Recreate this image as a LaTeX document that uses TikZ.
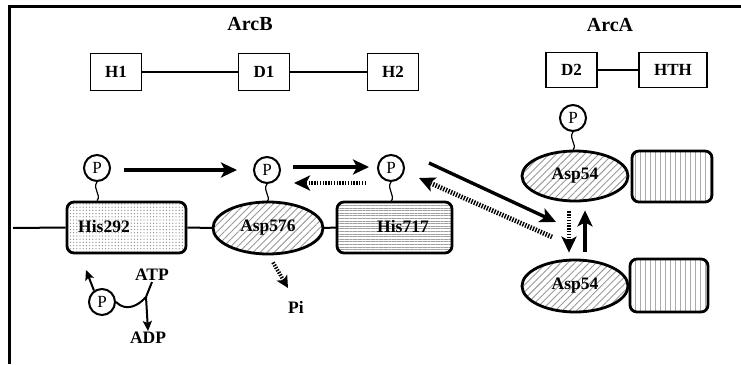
\documentclass[tikz,border=0pt]{standalone}
\usepackage{fontspec}
\setmainfont{Liberation Serif}
\usetikzlibrary{shapes.geometric,patterns.meta,arrows.meta,calc}
\newcommand\ptail[2]{\draw[line width=1.2pt] (#1.south) .. controls ($(#1.south)+(-5,7)$) and ($(#1.south)+(5,13)$) .. (#1.south |- #2.north);}
\begin{document}
\begin{tikzpicture}[x=1pt,y=-1pt,
  lbl/.style={font=\bfseries\fontsize{17.5}{17.5}\selectfont,inner sep=1pt},
  ttl/.style={font=\bfseries\fontsize{20}{20}\selectfont},
  dom/.style={draw,line width=1.4pt,minimum height=37pt,inner sep=0pt,font=\bfseries\fontsize{17}{17}\selectfont},
  pcirc/.style={draw,circle,line width=2pt,minimum size=26pt,inner sep=0pt,font=\fontsize{17}{17}\selectfont},
  midbox/.style={draw,rounded corners=7pt,line width=2.8pt,inner sep=0pt},
  oval/.style={draw,ellipse,line width=2.8pt,inner sep=0pt,font=\bfseries\fontsize{17.5}{17.5}\selectfont},
  dothatch/.style={pattern={Dots[radius=0.7pt,distance=3.2pt]},pattern color=gray!85},
  diaghatch/.style={pattern={Lines[angle=45,distance=5pt,line width=0.9pt]},pattern color=gray!80},
  horhatch/.style={pattern={Lines[angle=0,distance=2.6pt,line width=0.7pt]},pattern color=gray!75},
  verhatch/.style={pattern={Lines[angle=90,distance=5pt,line width=0.9pt]},pattern color=gray!65},
  solidarr/.style={line width=3.4pt,-{Stealth[length=16pt,width=15pt,inset=4pt]}},
  hatcharr/.style={line width=4.8pt,dash pattern=on 1.4pt off 1.4pt,-{Stealth[length=16pt,width=15pt,inset=4pt]}},
  thinarr/.style={line width=2pt,-{Stealth[length=10pt,width=9pt,inset=2pt]}},
  link/.style={line width=1.2pt}]
\useasboundingbox (0,0) rectangle (741,364);
\draw[line width=3pt] (9.5,364) -- (9.5,6.5) -- (741,6.5);

% titles
\node[ttl] (arcb) at (250,24) {ArcB};
\node[ttl] (arca) at (610,25) {ArcA};

% domain row
\node[dom,minimum width=51pt] (h1) at (116,72) {H1};
\node[dom,minimum width=51pt] (d1) at (264,72) {D1};
\node[dom,minimum width=51pt] (h2) at (393,72) {H2};
\node[dom,minimum width=51pt,minimum height=35pt] (d2) at (571.5,70) {D2};
\node[dom,minimum width=68pt,minimum height=35pt] (hth) at (673,70) {HTH};
\draw[link] (h1) -- (d1);
\draw[link] (d1) -- (h2);
\draw[link] (d2) -- (hth);

% middle row shapes
\coordinate (lend) at (13,228);
\node[midbox,dothatch,minimum width=119pt,minimum height=51pt] (his292) at (126.5,227.5) {};
\node[lbl] (his292t) at (104,227) {His292};
\node[oval,diaghatch,minimum width=110pt,minimum height=52pt] (asp576) at (268,228) {Asp576};
\node[midbox,horhatch,minimum width=115pt,minimum height=51pt] (his717) at (394.5,227.5) {};
\node[lbl] (his717t) at (403,227) {His717};
\draw[line width=2pt] (lend) -- (his292.west);
\draw[line width=2pt] (his292.east) -- (asp576.west);
\draw[line width=2pt] (asp576.east) -- (his717.west);

% ArcA shapes
\node[oval,diaghatch,minimum width=106pt,minimum height=50pt] (aspT) at (575,176) {Asp54};
\node[midbox,verhatch,minimum width=80pt,minimum height=51pt] (rectT) at (672,176.5) {};
\node[oval,diaghatch,minimum width=106pt,minimum height=52pt] (aspB) at (575,286) {Asp54};
\node[midbox,verhatch,minimum width=78pt,minimum height=53pt] (rectB) at (669,285.5) {};

% phosphate circles
\node[pcirc] (p1) at (97,168) {P};
\node[pcirc] (p2) at (267,170) {P};
\node[pcirc] (p3) at (391,168) {P};
\node[pcirc] (p4) at (573,118) {P};
\node[pcirc] (p5) at (102,302) {P};
\ptail{p1}{his292}
\ptail{p2}{asp576}
\ptail{p3}{his717}
\ptail{p4}{aspT}

% labels
\node[lbl] (atp) at (152,275) {ATP};
\node[lbl] (adp) at (148,338) {ADP};
\node[lbl] (pi) at (296,307) {Pi};

% arrows
\draw[solidarr] ([xshift=13pt,yshift=-2pt]p1.east) -- ([xshift=-16pt]p2.west);
\draw[solidarr] ([xshift=12pt,yshift=3pt]p2.east) -- ([xshift=-8pt,yshift=1pt]p3.west);
\draw[hatcharr] ([xshift=-11pt,yshift=-15pt]p3.west) -- ([xshift=13pt,yshift=-13pt]p2.east);
\coordinate (a4e) at (556,222);
\draw[solidarr] ([xshift=24pt,yshift=5pt]p3.east) -- (a4e);
\coordinate (a5s) at (552,237);
\draw[hatcharr] (a5s) -- ([xshift=14pt,yshift=-10pt]p3.east);
\draw[hatcharr,line width=4.2pt] ($(aspT.south)+(-6,9)$) -- ($(aspB.north)+(-6,-6)$);
\draw[solidarr,line width=3.8pt] ($(aspB.north)+(10,-7)$) -- ($(aspT.south)+(10,8)$);
\coordinate (pie) at (288,288);
\draw[hatcharr,line width=3.8pt,-{Stealth[length=12pt,width=12pt,inset=3pt]}] ($(asp576.south)+(5,8)$) -- (pie);

% ATP -> ADP reaction
\coordinate (jn) at (146,297);
\draw[line width=2pt] (atp.south) -- (jn);
\draw[line width=2pt] (p5.east) .. controls (126,312) and (138,306) .. (jn);
\draw[thinarr] (jn) -- (adp.north);
\coordinate (pup) at (86,270);
\draw[thinarr] (p5.125) -- (pup);
\end{tikzpicture}
\end{document}
